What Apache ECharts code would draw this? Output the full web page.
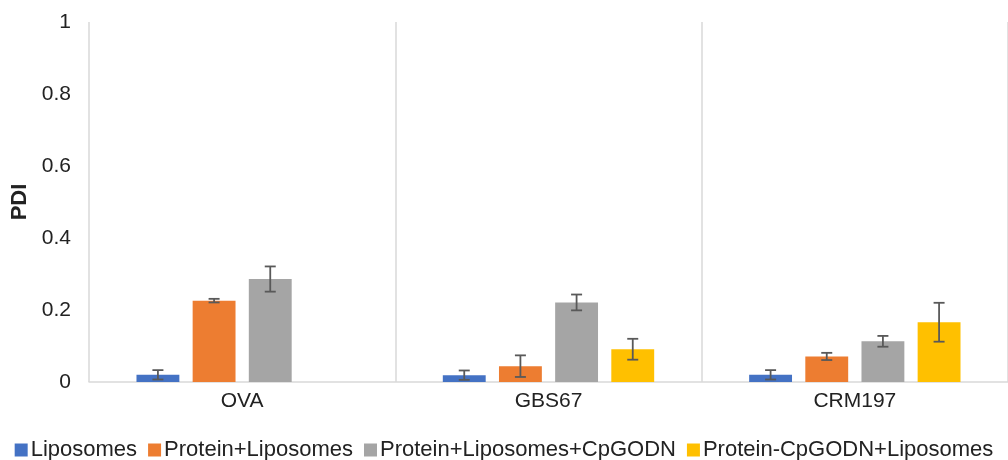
<!DOCTYPE html>
<html>
<head>
<meta charset="utf-8">
<script src="https://cdn.jsdelivr.net/npm/echarts@6/dist/echarts.min.js"></script>
<style>html,body{margin:0;padding:0;background:#fff;}#c{width:1008px;height:460px;}</style>
</head>
<body>
<div id="c"></div>
<script>
var categories = ['OVA', 'GBS67', 'CRM197'];
var seriesNames = ['Liposomes', 'Protein+Liposomes', 'Protein+Liposomes+CpGODN', 'Protein-CpGODN+Liposomes'];
var liposomes = [0.020, 0.019, 0.020];
var liposomesErr = [0.013, 0.013, 0.013];
var proteinLiposomes = [0.226, 0.044, 0.071];
var proteinLiposomesErr = [0.005, 0.030, 0.010];
var proteinLiposomesCpG = [0.286, 0.221, 0.113];
var proteinLiposomesCpGErr = [0.035, 0.022, 0.015];
var proteinCpGLiposomes = [null, 0.091, 0.166];
var proteinCpGLiposomesErr = [null, 0.029, 0.054];
var yTicks = [0, 0.2, 0.4, 0.6, 0.8, 1];

var colors = ['#4472C4', '#ED7D31', '#A5A5A5', '#FFC000'];
var values = [liposomes, proteinLiposomes, proteinLiposomesCpG, proteinCpGLiposomes];
var errors = [liposomesErr, proteinLiposomesErr, proteinLiposomesCpGErr, proteinCpGLiposomesErr];
var CAT_GAP = 0.31, BAR_GAP = 0.31, N = 4;
var FONT = '"Liberation Sans", Arial, sans-serif';

var series = [];
values.forEach(function (vals, i) {
  series.push({
    name: seriesNames[i], type: 'bar',
    data: vals.map(function (v) { return v === null ? '-' : v; }),
    itemStyle: { color: colors[i] },
    barGap: (BAR_GAP * 100) + '%', barCategoryGap: (CAT_GAP * 100) + '%'
  });
});
values.forEach(function (vals, i) {
  var data = [];
  vals.forEach(function (v, k) { if (v !== null) data.push([k, v, errors[i][k]]); });
  series.push({
    type: 'custom', silent: true, z: 5,
    data: data,
    renderItem: function (params, api) {
      var k = api.value(0), v = api.value(1), e = api.value(2);
      var band = api.size([1, 0])[0];
      var total = band * (1 - CAT_GAP);
      var w = total / (N + (N - 1) * BAR_GAP);
      var c = api.coord([k, v]);
      var x = c[0] - total / 2 + w / 2 + i * w * (1 + BAR_GAP);
      var yHi = api.coord([k, v + e])[1];
      var yLo = api.coord([k, v - e])[1];
      var cap = 5.5;
      var st = { stroke: '#595959', lineWidth: 1.8 };
      return { type: 'group', children: [
        { type: 'line', shape: { x1: x, y1: yHi, x2: x, y2: yLo }, style: st },
        { type: 'line', shape: { x1: x - cap, y1: yHi, x2: x + cap, y2: yHi }, style: st },
        { type: 'line', shape: { x1: x - cap, y1: yLo, x2: x + cap, y2: yLo }, style: st }
      ]};
    }
  });
});

var chart = echarts.init(document.getElementById('c'), null, { renderer: 'canvas' });
chart.setOption({
  animation: false,
  backgroundColor: '#ffffff',
  textStyle: { fontFamily: FONT },
  grid: { left: 89, right: -5, top: 22, bottom: 78, containLabel: false },
  legend: {
    data: seriesNames, top: 434, left: 'center',
    itemWidth: 13, itemHeight: 13, itemGap: 11, icon: 'rect',
    textStyle: { fontSize: 22, color: '#222', fontFamily: FONT, padding: [0, 0, 0, -2] }
  },
  xAxis: {
    type: 'category', data: categories,
    axisLine: { show: true, lineStyle: { color: '#D9D9D9', width: 1.5 } },
    axisTick: { show: false },
    axisLabel: { fontSize: 21, color: '#222', margin: 9, fontFamily: FONT },
    splitLine: { show: true, lineStyle: { color: '#D9D9D9', width: 1.5 } }
  },
  yAxis: {
    type: 'value', min: 0, max: 1, interval: 0.2,
    name: 'PDI', nameLocation: 'middle', nameGap: 58, nameRotate: 90,
    nameTextStyle: { fontSize: 22, color: '#222', fontFamily: FONT, fontWeight: 'bold' },
    axisLine: { show: false }, axisTick: { show: false },
    splitLine: { show: false },
    axisLabel: { fontSize: 21, color: '#222', margin: 18, fontFamily: FONT,
      formatter: function (v) { return yTicks.indexOf(Math.round(v * 10) / 10) >= 0 ? String(Math.round(v * 10) / 10) : ''; } }
  },
  series: series
});
</script>
</body>
</html>
